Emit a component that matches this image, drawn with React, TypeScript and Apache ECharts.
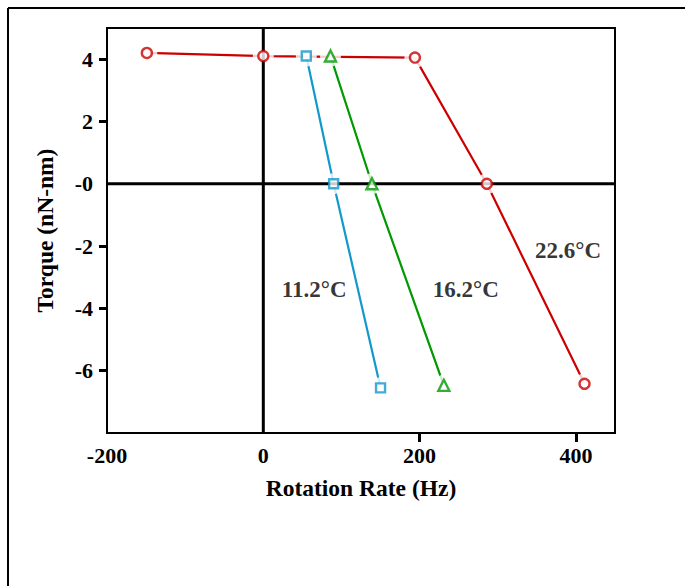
import React, { useEffect, useRef } from "react";
import * as echarts from "echarts";

const xTicks = [-200, 0, 200, 400];
const xTickMarks = [200, 400];
const yTicks = [4, 2, 0, -2, -4, -6];
const yTickMarks = [4, 2, -2, -4, -6];

const red226X = [-149, 0, 194, 286, 411];
const red226Y = [4.2, 4.1, 4.05, 0, -6.42];
const green162X = [86, 139, 231];
const green162Y = [4.1, 0, -6.47];
const blue112X = [55, 90, 150];
const blue112Y = [4.1, 0, -6.55];

const labelNames = ["11.2°C", "16.2°C", "22.6°C"];
const labelX = [65, 259, 390];
const labelY = [-3.4, -3.4, -2.13];

const RED = "#cc0000";
const GREEN = "#009900";
const BLUE = "#1199cc";
const FONT = "Liberation Serif";

const zip = (xs: number[], ys: number[]) => xs.map((x, i) => [x, ys[i]]);

export default function App() {
  const ref = useRef<HTMLDivElement>(null);
  useEffect(() => {
    const chart = echarts.init(ref.current!, null, { renderer: "svg" });
    const groups = [
      { d: zip(red226X, red226Y), c: RED, sym: "circle", size: 10 },
      { d: zip(green162X, green162Y), c: GREEN, sym: "triangle", size: 11 },
      { d: zip(blue112X, blue112Y), c: BLUE, sym: "rect", size: 9 },
    ];
    const series: any[] = [];
    groups.forEach((g) => {
      series.push({
        type: "line",
        data: g.d,
        symbol: "none",
        lineStyle: { color: g.c, width: 2.2 },
        z: 2,
      });
    });
    groups.forEach((g) => {
      series.push({
        type: "scatter",
        data: g.d,
        symbol: "circle",
        symbolSize: 21,
        itemStyle: { color: "#fff" },
        z: 3,
      });
    });
    series.push({
      type: "line",
      data: [
        [0, -8],
        [0, 5],
      ],
      symbol: "none",
      lineStyle: { color: "#000", width: 3 },
      z: 4,
    });
    series.push({
      type: "line",
      data: [
        [-200, 0],
        [450, 0],
      ],
      symbol: "none",
      lineStyle: { color: "#000", width: 3 },
      z: 4,
    });
    groups.forEach((g) => {
      series.push({
        type: "scatter",
        data: g.d,
        symbol: g.sym,
        symbolSize: g.size,
        itemStyle: { color: "#fff", borderColor: g.c, borderWidth: 2.4 },
        z: 5,
      });
    });
    series.push({
      type: "scatter",
      data: zip(labelX, labelY).map((p, i) => ({ value: p, name: labelNames[i] })),
      symbolSize: 0,
      z: 6,
      label: {
        show: true,
        position: "inside",
        formatter: (p: any) => p.name,
        color: "#000",
        fontFamily: FONT,
        fontWeight: "bold",
        fontSize: 23,
      },
    });
    const tickFont = { fontFamily: FONT, fontWeight: "bold", fontSize: 22, color: "#000" };
    const nameFont = { fontFamily: FONT, fontWeight: "bold", fontSize: 23.5, color: "#000" };
    chart.setOption({
      animation: false,
      graphic: [
        { type: "line", shape: { x1: 8, y1: 8, x2: 685, y2: 8 }, style: { stroke: "#000", lineWidth: 2 } },
        { type: "line", shape: { x1: 8, y1: 8, x2: 8, y2: 586 }, style: { stroke: "#000", lineWidth: 2 } },
      ],
      grid: {
        left: 107,
        top: 28,
        right: 70,
        bottom: 153,
        show: true,
        borderColor: "#000",
        borderWidth: 2,
      },
      xAxis: {
        type: "value",
        min: -200,
        max: 450,
        name: "Rotation Rate (Hz)",
        nameLocation: "middle",
        nameGap: 43,
        nameTextStyle: nameFont,
        axisLine: { show: false, onZero: false },
        splitLine: { show: false },
        axisTick: {
          show: true,
          customValues: xTickMarks,
          length: 9,
          lineStyle: { color: "#000", width: 3 },
        },
        axisLabel: { customValues: xTicks, margin: 11, ...tickFont },
      },
      yAxis: {
        type: "value",
        min: -8,
        max: 5,
        name: "Torque (nN-nm)",
        nameLocation: "middle",
        nameGap: 50,
        nameTextStyle: nameFont,
        axisLine: { show: false, onZero: false },
        splitLine: { show: false },
        axisTick: {
          show: true,
          customValues: yTickMarks,
          length: 8,
          lineStyle: { color: "#000", width: 3 },
        },
        axisLabel: {
          customValues: yTicks,
          margin: 14,
          formatter: (v: number) => (v === 0 ? "-0" : String(v)),
          ...tickFont,
        },
      },
      series,
    });
    return () => chart.dispose();
  }, []);
  return (
    <div
      ref={ref}
      style={{ position: "absolute", left: 0, top: 0, width: 685, height: 586, background: "#fff" }}
    />
  );
}
